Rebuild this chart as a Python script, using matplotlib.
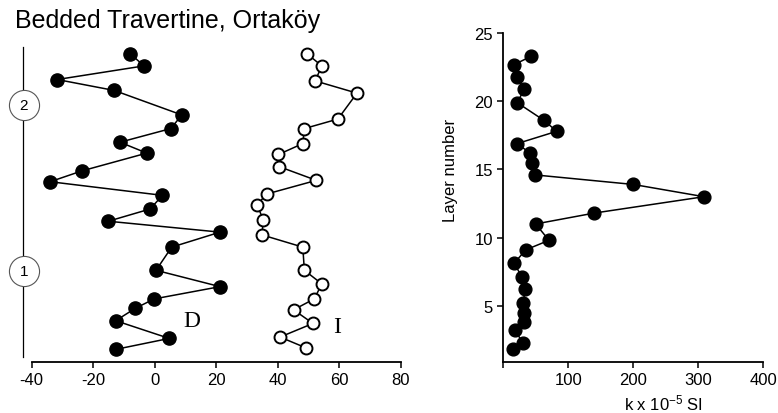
"""Bedded travertine profile: declination / inclination and susceptibility vs layer."""

import matplotlib
matplotlib.use("Agg")
import matplotlib.pyplot as plt

# declination (D) and inclination (I) by layer position
d_layer = [23.5, 22.6, 21.6, 20.8, 19.0, 18.0, 17.0, 16.2, 14.9, 14.1, 13.1,
           12.1, 11.2, 10.4, 9.3, 7.6, 6.4, 5.5, 4.8, 3.9, 2.6, 1.8]
d_values = [-8.0, -3.5, -31.7, -13.2, 8.8, 5.2, -11.3, -2.6, -23.6, -34.0, 2.5,
            -1.5, -15.1, 21.2, 5.5, 0.4, 21.2, -0.2, -6.4, -12.7, 4.7, -12.6]

i_layer = [23.5, 22.6, 21.5, 20.6, 18.7, 18.0, 16.9, 16.1, 15.2, 14.2, 13.2,
           12.4, 11.3, 10.2, 9.3, 7.6, 6.6, 5.5, 4.7, 3.7, 2.7, 1.9]
i_values = [49.4, 54.3, 52.1, 65.7, 59.5, 48.6, 48.1, 40.2, 40.5, 52.5, 36.4,
            33.2, 35.3, 34.8, 48.1, 48.6, 54.3, 51.8, 45.1, 51.4, 40.7, 49.2]

# magnetic susceptibility by layer
k_layer = [23.3, 22.7, 21.8, 20.9, 19.9, 18.6, 17.8, 16.9, 16.2, 15.5, 14.6, 13.9, 13.0,
           11.8, 11.0, 9.8, 9.1, 8.1, 7.1, 6.2, 5.2, 4.5, 3.8, 3.2, 2.3, 1.8]
k_values = [42.6, 16.9, 20.6, 32.3, 21.5, 62.6, 82.2, 21.5, 41.1, 43.7, 48.8, 200.0, 308.8,
            140.0, 49.8, 70.3, 34.5, 16.5, 29.2, 33.4, 30.8, 31.8, 32.3, 18.0, 29.8, 14.5]

# stratigraphic units marked on the left column
unit_labels = ["2", "1"]
unit_layer = [19.7, 7.55]

YLIM = (0.87, 25)

plt.rcParams.update({
    "font.family": ["Liberation Sans", "DejaVu Sans"],
    "font.size": 12,
    "axes.unicode_minus": False,
    "mathtext.fontset": "custom",
    "mathtext.rm": "Liberation Sans",
    "mathtext.default": "regular",
    "axes.linewidth": 1.3,
    "xtick.major.width": 1.1,
    "ytick.major.width": 1.1,
    "xtick.major.size": 4,
    "ytick.major.size": 4,
})

fig = plt.figure(figsize=(7.78, 4.14), dpi=100)

# ---- left panel: D and I ----
ax1 = fig.add_axes([0.0407, 0.1232, 0.4747, 0.7942])
ax1.plot(d_values, d_layer, "-o", color="black", lw=1.1,
         markersize=9.5, markerfacecolor="black", markeredgecolor="black")
ax1.plot(i_values, i_layer, "-o", color="black", lw=1.1,
         markersize=8.6, markerfacecolor="white", markeredgecolor="black",
         markeredgewidth=1.4)
ax1.set_xlim(-40, 80)
ax1.set_ylim(*YLIM)
ax1.set_xticks([-40, -20, 0, 20, 40, 60, 80])
ax1.set_yticks([])
for side in ("left", "top", "right"):
    ax1.spines[side].set_visible(False)

ax1.text(12.0, 3.9, "D", family=["Liberation Serif", "DejaVu Serif"],
         fontsize=17, ha="center", va="center")
ax1.text(59.4, 3.5, "I", family=["Liberation Serif", "DejaVu Serif"],
         fontsize=17, ha="center", va="center")

# stratigraphic column line with unit circles
ax1.plot([-42.9, -42.9], [1.24, 24.0], color="black", lw=0.9, clip_on=False)
for lab, lay in zip(unit_labels, unit_layer):
    ax1.scatter([-42.6], [lay], s=470, facecolor="white", edgecolor="#555555",
                linewidth=0.8, clip_on=False, zorder=3)
    ax1.text(-42.6, lay, lab, fontsize=11, ha="center", va="center", zorder=4)

# ---- right panel: susceptibility ----
ax2 = fig.add_axes([0.6469, 0.1232, 0.3342, 0.7942])
ax2.plot(k_values, k_layer, "-o", color="black", lw=1.1,
         markersize=9.2, markerfacecolor="black", markeredgecolor="black")
ax2.set_xlim(0, 400)
ax2.set_ylim(*YLIM)
ax2.set_xticks([0, 100, 200, 300, 400])
ax2.set_xticklabels(["", "100", "200", "300", "400"])
ax2.set_yticks([5, 10, 15, 20, 25])
ax2.spines["top"].set_visible(False)
ax2.spines["right"].set_visible(False)
ax2.set_ylabel("Layer number", fontsize=12)
ax2.yaxis.set_label_coords(-0.174, 0.585)
ax2.set_xlabel(r"k x 10$^{-5}$ SI", fontsize=12)
ax2.xaxis.set_label_coords(0.618, -0.092)

fig.text(15 / 778, 1 - 21 / 414, "Bedded Travertine, Ortaköy",
         fontsize=18, ha="left", va="center")

fig.savefig("out.png", dpi=100)
